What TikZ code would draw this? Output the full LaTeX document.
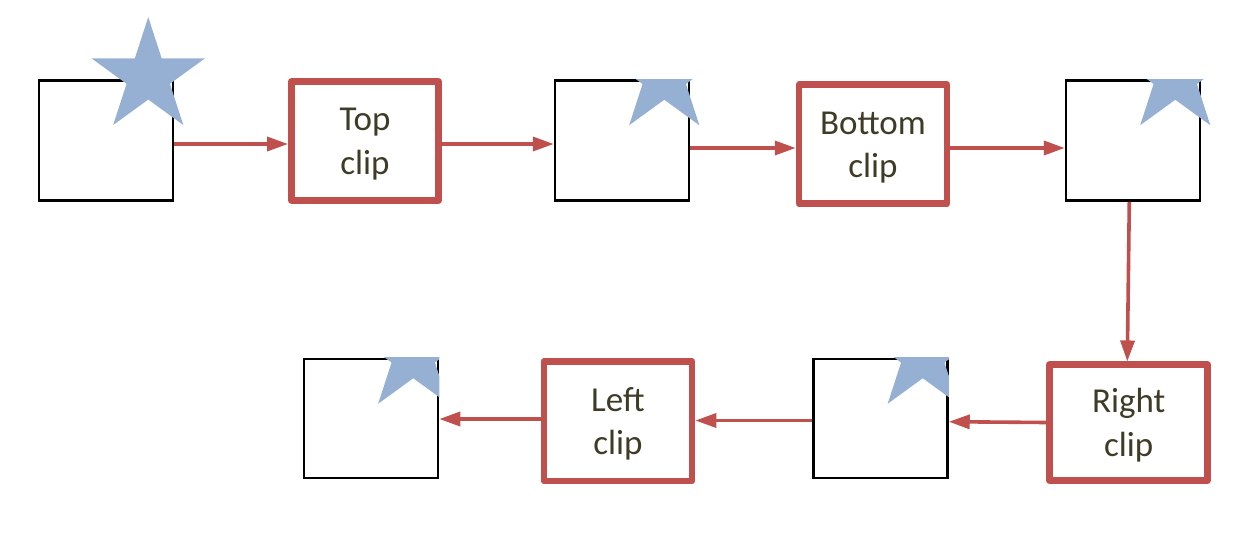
\documentclass[tikz,border=0pt]{standalone}
\usepackage{fontspec}
\setmainfont{Carlito}
\usetikzlibrary{arrows.meta,calc}
\definecolor{redc}{HTML}{C0504D}
\definecolor{textc}{HTML}{3E3C26}
\definecolor{starc}{RGB}{150,176,212}
\newcommand\mystar[1]{\fill[starc,shift={(#1)}] (-90:59.7) -- (-126:22.8) -- (-162:59.7) -- (-198:22.8) -- (-234:59.7) -- (-270:22.8) -- (-306:59.7) -- (-342:22.8) -- (-18:59.7) -- (-54:22.8) -- cycle;}
\begin{document}
\begin{tikzpicture}[x=1pt,y=-1pt,
  sqbox/.style={draw=black, line width=2.5pt, minimum width=134pt, minimum height=120pt, inner sep=0pt},
  clipbox/.style={draw=redc, line width=6.5pt, line join=round, inner sep=0pt, align=center,
    text=textc, font=\fontsize{35pt}{43.4pt}\selectfont, text height=73pt, text depth=6pt},
  arr/.style={draw=redc, line width=3.6pt, -{Triangle[length=21pt,width=14pt]}}]
\useasboundingbox (0,0) rectangle (1247,542);
% squares
\node[sqbox] (sq1) at (106,140.5) {};
\node[sqbox] (sq2) at (622,140.7) {};
\node[sqbox] (sq3) at (1133,140.7) {};
\node[sqbox, minimum height=119pt] (sq4) at (880.5,418.7) {};
\node[sqbox, minimum height=119pt] (sq5) at (371,418.7) {};
% stars
\mystar{$(sq1.north west)+(110.5,-2.5)$}
\begin{scope}
  \clip ([xshift=-100pt]sq2.north west) rectangle ([xshift=100pt]sq2.south east);
  \mystar{$(sq2.north west)+(110.5,-2.5)$}
\end{scope}
\begin{scope}
  \clip ([xshift=-100pt]sq3.north west) rectangle ([xshift=100pt]sq3.south east);
  \mystar{$(sq3.north west)+(110.5,-2.5)$}
\end{scope}
\begin{scope}
  \clip ([xshift=-100pt]sq4.north west) rectangle (sq4.south east);
  \mystar{$(sq4.north west)+(110.5,-2.5)$}
\end{scope}
\begin{scope}
  \clip ([xshift=-100pt]sq5.north west) rectangle (sq5.south east);
  \mystar{$(sq5.north west)+(110.5,-2.5)$}
\end{scope}
% clip boxes
\node[clipbox, minimum width=147.4pt, minimum height=119pt] (tc) at (365,140.8) {Top\\clip};
\node[clipbox, minimum width=148pt, minimum height=119pt] (bc) at (873,144.2) {Bottom\\clip};
\node[clipbox, minimum width=158pt, minimum height=115.6pt] (rc) at (1128.7,422.5) {Right\\clip};
\node[clipbox, minimum width=148.3pt, minimum height=119.7pt] (lc) at (617.9,421.2) {Left\\clip};
% connectors
\draw[arr] (sq1.east |- 0,144) -- (tc.west |- 0,144);
\draw[arr] (tc.east |- 0,144) -- (sq2.west |- 0,144);
\draw[arr] (sq2.east |- 0,148) -- (bc.west |- 0,148);
\draw[arr] (bc.east |- 0,148) -- (sq3.west |- 0,148);
\draw[arr] (1129.3,0 |- sq3.south) -- (1127.3,0 |- rc.north);
\draw[arr] (rc.west |- 0,422.5) -- (sq4.east |- 0,421.7);
\draw[arr] (sq4.west |- 0,420.5) -- (lc.east |- 0,420.5);
\draw[arr] (lc.west |- 0,419) -- (sq5.east |- 0,419);
\end{tikzpicture}
\end{document}
